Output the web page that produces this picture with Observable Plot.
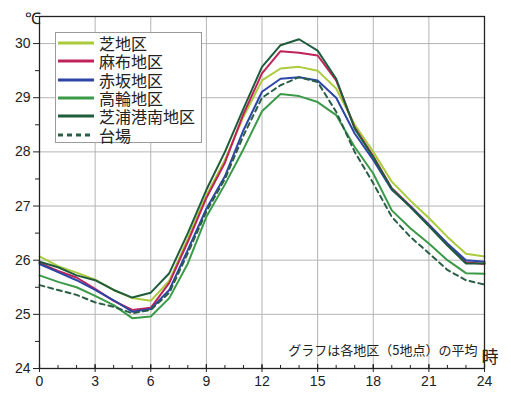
<!DOCTYPE html>
<html>
<head>
<meta charset="utf-8">
<script src="https://cdn.jsdelivr.net/npm/d3@7"></script>
<script src="https://cdn.jsdelivr.net/npm/@observablehq/plot@0.6"></script>
<style>
  body { margin: 0; background: #fff; }
  #wrap { position: relative; width: 511px; height: 395px; }
  #legend { position: absolute; left: 55px; top: 32px; width: 147px; height: 111px;
    border: 1px solid #9a9a9a; background: #fff; box-sizing: border-box; padding-top: 1px;
    font-family: "Noto Sans CJK JP", sans-serif; font-size: 16px; color: #222; }
  .row { height: 18.3px; display: flex; align-items: center; }
  .row svg { margin-left: 2px; margin-right: 5px; flex: none; }
  .row span { display: block; height: 18px; line-height: 18px; white-space: nowrap; overflow: visible; }
</style>
</head>
<body>
<div id="wrap"></div>
<script>
const hours = d3.range(0, 25);
const seriesNames = ["芝地区", "麻布地区", "赤坂地区", "高輪地区", "芝浦港南地区", "台場"];
const shiba    = [26.07,25.89,25.77,25.64,25.45,25.30,25.25,25.62,26.40,27.20,27.85,28.65,29.32,29.54,29.57,29.50,29.17,28.50,28.00,27.45,27.10,26.78,26.43,26.12,26.07];
const azabu    = [25.95,25.80,25.68,25.47,25.25,25.08,25.12,25.58,26.34,27.15,27.80,28.70,29.45,29.86,29.83,29.78,29.32,28.45,27.92,27.33,27.00,26.66,26.30,25.96,25.93];
const akasaka  = [25.93,25.78,25.63,25.45,25.26,25.05,25.10,25.45,26.19,26.95,27.55,28.40,29.11,29.35,29.38,29.32,29.00,28.34,27.85,27.30,26.99,26.65,26.31,26.00,25.97];
const takanawa = [25.72,25.60,25.50,25.34,25.17,24.93,24.96,25.30,25.94,26.80,27.40,28.05,28.75,29.07,29.03,28.92,28.68,28.09,27.60,26.92,26.59,26.31,26.00,25.76,25.75];
const shibaura = [25.97,25.87,25.72,25.63,25.45,25.31,25.40,25.76,26.50,27.30,28.00,28.80,29.57,29.97,30.08,29.87,29.35,28.43,27.90,27.32,26.98,26.63,26.27,25.94,25.94];
const daiba    = [25.54,25.45,25.36,25.22,25.14,25.02,25.08,25.40,26.13,26.90,27.50,28.30,29.00,29.23,29.38,29.29,28.74,28.00,27.42,26.80,26.43,26.13,25.82,25.63,25.55];
const xTicks = [0, 3, 6, 9, 12, 15, 18, 21, 24];
const yTicks = [24, 25, 26, 27, 28, 29, 30];
const yMinor = [24.5, 25.5, 26.5, 27.5, 28.5, 29.5, 30.5];
const unitY = "℃";
const unitX = "時";
const caption = "グラフは各地区（5地点）の平均";

const colors = ["#a9cb3c", "#c0225a", "#2c46a6", "#3a9a48", "#1f5c3c", "#2a5e46"];
const dashes = [null, null, null, null, null, "5,4"];
const allValues = [shiba, azabu, akasaka, takanawa, shibaura, daiba];

const data = [];
seriesNames.forEach((name, i) => {
  hours.forEach((h, j) => data.push({series: name, hour: h, temp: allValues[i][j]}));
});

const W = 511, H = 395, mL = 39, mR = 27, mT = 16, mB = 27;
const frameH = H - mT - mB;

const marks = [
  Plot.gridX(xTicks, {stroke: "#b4b4b4", strokeOpacity: 1, strokeWidth: 1}),
  Plot.gridY(yTicks, {stroke: "#b4b4b4", strokeOpacity: 1, strokeWidth: 1}),
  Plot.ruleX(hours, {stroke: "#222", strokeWidth: 1, insetTop: frameH - 3}),
  Plot.ruleX(xTicks, {stroke: "#222", strokeWidth: 1.2, insetTop: frameH - 4}),
  Plot.axisX(xTicks, {tickSize: 4, tickPadding: 4, fontSize: 14, label: null, stroke: "#222", tickFormat: d => String(d)}),
  Plot.axisY(yTicks, {tickSize: 6, tickPadding: 3, fontSize: 14, label: null, stroke: "#222", tickFormat: d => String(d)}),
  Plot.axisY(yMinor, {tickSize: 4, text: null, label: null, stroke: "#222"}),
];
seriesNames.forEach((name, i) => {
  marks.push(Plot.line(data.filter(d => d.series === name), {
    x: "hour", y: "temp", stroke: colors[i], strokeWidth: 2,
    strokeDasharray: dashes[i] || undefined, strokeLinejoin: "miter"
  }));
});
marks.push(Plot.frame({stroke: "#222", strokeWidth: 1.3}));
marks.push(Plot.text([unitY], {frameAnchor: "top-left", dx: -15, dy: -4, fontSize: 16, fill: "#222"}));
marks.push(Plot.text([unitX], {frameAnchor: "bottom-right", dx: 14, dy: -6, fontSize: 17, fill: "#222", fontFamily: "Noto Sans CJK JP"}));
marks.push(Plot.text([caption], {frameAnchor: "bottom-right", dx: -7, dy: -14, textAnchor: "end", fontSize: 13, fill: "#222", fontFamily: "Noto Sans CJK JP"}));

const chart = Plot.plot({
  width: W, height: H,
  marginLeft: mL, marginRight: mR, marginTop: mT, marginBottom: mB,
  style: {fontFamily: "Liberation Sans, Arial, sans-serif", fontSize: "14px", color: "#222", background: "#fff"},
  x: {domain: [0, 24], axis: null},
  y: {domain: [24, 30.5], axis: null},
  marks
});
const wrap = document.getElementById("wrap");
wrap.appendChild(chart);

const legend = document.createElement("div");
legend.id = "legend";
seriesNames.forEach((name, i) => {
  const row = document.createElement("div");
  row.className = "row";
  const dash = dashes[i] ? ` stroke-dasharray="${dashes[i]}"` : "";
  row.innerHTML = `<svg width="36" height="6"><line x1="0" y1="3" x2="36" y2="3" stroke="${colors[i]}" stroke-width="3"${dash}/></svg><span>${name}</span>`;
  legend.appendChild(row);
});
wrap.appendChild(legend);
</script>
</body>
</html>
